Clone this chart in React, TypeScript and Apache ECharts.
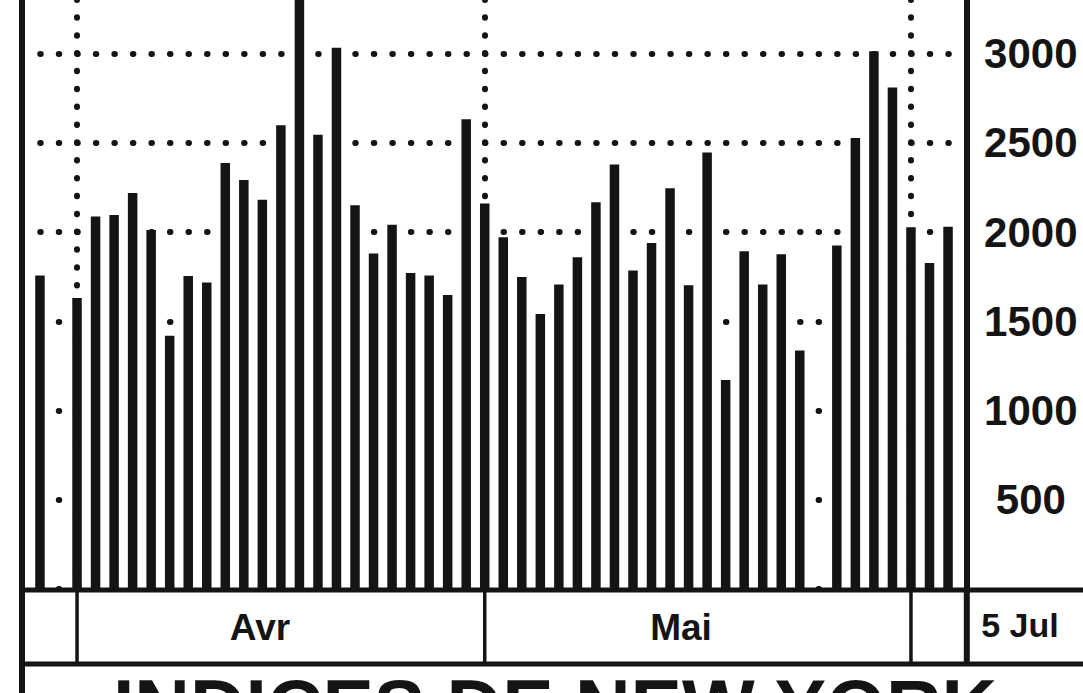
import React, { useEffect, useRef } from "react";
import * as echarts from "echarts";

// Trading days shown (28 March – 5 June); null = market closed
const categories = [
  "28/03", "29/03",
  "01/04", "02/04", "03/04", "04/04", "05/04",
  "08/04", "09/04", "10/04", "11/04", "12/04",
  "15/04", "16/04", "17/04", "18/04", "19/04",
  "22/04", "23/04", "24/04", "25/04", "26/04",
  "29/04", "30/04",
  "01/05", "02/05", "03/05",
  "06/05", "07/05", "08/05", "09/05", "10/05",
  "13/05", "14/05", "15/05", "16/05", "17/05",
  "20/05", "21/05", "22/05", "23/05", "24/05",
  "27/05", "28/05", "29/05", "30/05", "31/05",
  "03/06", "04/06", "05/06",
];

const volumes: (number | null)[] = [
  1757, null,
  1630, 2087, 2095, 2218, 2011,
  1419, 1753, 1717, 2387, 2292,
  2180, 2598, 3400, 2545, 3032,
  2150, 1880, 2040, 1770, 1757,
  1647, 2632,
  2160, 1970, 1748,
  1541, 1706, 1858, 2167, 2378,
  1784, 1939, 2245, 1702, 2446,
  1171, 1892, 1706, 1875, 1336,
  null, 1924, 2526, 3013, 2810,
  2027, 1827, 2030,
];

const monthStarts = ["01/04", "01/05", "03/06"];
const monthLabels = ["Avr", "Mai"];
const dateLabel = "5 Jul";
const titleText = "INDICES DE NEW YORK";

const yMin = 0;
const yMax = 3500;
const yInterval = 500;
const yLabelMax = 3000;

const INK = "#141414";
const FONT = "'Liberation Sans', Arial, Helvetica, sans-serif";

export default function App() {
  const ref = useRef<HTMLDivElement>(null);
  const W = 1083;
  const H = 693;
  const OFF = 40; // chart extends above the visible page (cropped like the reference)

  useEffect(() => {
    if (!ref.current) return;
    const chart = echarts.init(ref.current, null, { renderer: "svg" });
    const gridLeft = 30.7;
    const gridRight = 125.7;
    const gridTop = OFF - 35.75;
    const gridBottom = 104;
    const band = (W - gridLeft - gridRight) / categories.length;
    const unitPx = (H + OFF - gridTop - gridBottom) / (yMax - yMin);

    chart.setOption({
      animation: false,
      backgroundColor: "#ffffff",
      grid: { left: gridLeft, right: gridRight, top: gridTop, bottom: gridBottom },
      xAxis: {
        type: "category",
        data: categories,
        boundaryGap: true,
        axisLine: { show: false },
        axisTick: { show: false },
        axisLabel: { show: false },
        splitLine: { show: false },
      },
      yAxis: {
        type: "value",
        position: "right",
        min: yMin,
        max: yMax,
        interval: yInterval,
        offset: 9.5,
        axisLine: { show: true, lineStyle: { color: INK, width: 6 } },
        axisTick: { show: false },
        axisLabel: {
          margin: 64,
          align: "center",
          fontSize: 42,
          fontWeight: "bold",
          fontFamily: FONT,
          color: INK,
          formatter: (v: number) => (v === 0 || v > yLabelMax ? "" : String(v)),
        },
        splitLine: {
          show: true,
          lineStyle: {
            color: INK,
            width: 6,
            type: [0.5, band - 0.5],
            dashOffset: band / 2,
            cap: "round",
          },
        },
      },
      series: [
        {
          type: "bar",
          data: volumes,
          barWidth: 9.5,
          itemStyle: { color: INK },
          emphasis: { disabled: true },
          markLine: {
            silent: true,
            symbol: "none",
            label: { show: false },
            emphasis: { disabled: true },
            lineStyle: {
              color: INK,
              width: 6,
              type: [0.5, 100 * unitPx - 0.5],
              cap: "round",
            },
            data: monthStarts.map((d) => ({ xAxis: d })),
          },
        },
      ],
    });

    const y0 = chart.convertToPixel({ yAxisIndex: 0 }, 0) as number;
    const sepX = monthStarts.map((d) => chart.convertToPixel({ xAxisIndex: 0 }, d) as number);
    const axisX = W - gridRight + 9.5;
    const rowBottom = OFF + 664;
    const rowMid = (y0 + rowBottom) / 2 + 1;
    const frameX = 22;

    const line = (x1: number, y1: number, x2: number, y2: number, w: number) => ({
      type: "line",
      z: 10,
      silent: true,
      shape: { x1, y1, x2, y2 },
      style: { stroke: INK, lineWidth: w },
    });
    const text = (s: string, x: number, y: number, size: number) => ({
      type: "text",
      z: 10,
      silent: true,
      x,
      y,
      style: {
        text: s,
        fill: INK,
        fontSize: size,
        fontWeight: "bold",
        fontFamily: FONT,
        align: "center",
        verticalAlign: "middle",
      },
    });

    chart.setOption({
      graphic: [
        line(frameX, 0, frameX, H + OFF, 6),
        line(frameX, y0 + 1, W, y0 + 1, 5),
        line(frameX, rowBottom, W, rowBottom, 5),
        ...sepX.map((x) => line(x, y0, x, rowBottom, 3.5)),
        line(axisX, y0, axisX, rowBottom, 6),
        text(monthLabels[0], 260, rowMid, 37),
        text(monthLabels[1], 681, rowMid, 37),
        text(dateLabel, 1020, rowMid - 3, 34),
        text(titleText, 555, OFF + 707, 77),
      ],
    });

    return () => chart.dispose();
  }, []);

  return (
    <div
      ref={ref}
      style={{ position: "fixed", left: 0, top: -OFF, width: W, height: H + OFF, background: "#fff" }}
    />
  );
}
